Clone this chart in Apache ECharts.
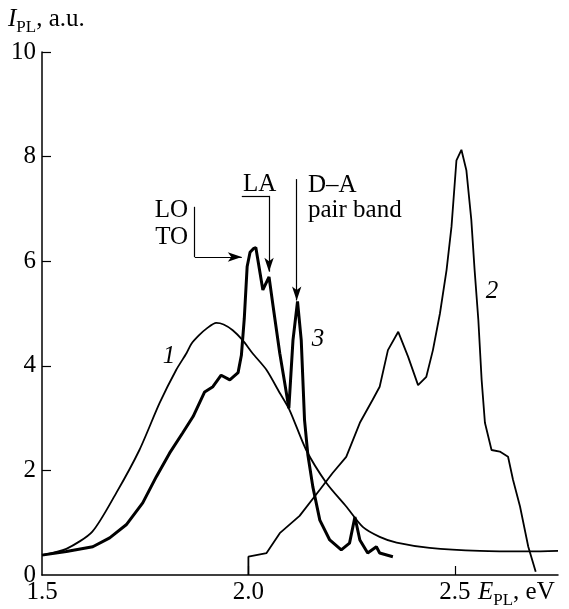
<!DOCTYPE html>
<html>
<head>
<meta charset="utf-8">
<script src="https://cdn.jsdelivr.net/npm/echarts@6/dist/echarts.min.js"></script>
<style>
  html, body { margin: 0; padding: 0; background: #fff; }
  #chart { width: 569px; height: 609px; }
</style>
</head>
<body>
<div id="chart"></div>
<script>
// photon energy (eV) vs PL intensity (a.u.)
const curve1 = [
  [1.500, 0.38], [1.559, 0.50], [1.622, 0.83], [1.680, 1.57], [1.736, 2.39],
  [1.785, 3.29], [1.825, 3.92], [1.850, 4.24], [1.862, 4.42], [1.880, 4.58],
  [1.900, 4.72], [1.922, 4.82], [1.940, 4.79], [1.962, 4.68], [1.986, 4.49],
  [2.010, 4.24], [2.044, 3.92], [2.076, 3.48], [2.100, 3.15], [2.140, 2.39],
  [2.189, 1.76], [2.237, 1.31], [2.277, 0.92], [2.318, 0.73], [2.359, 0.62],
  [2.439, 0.52], [2.561, 0.46], [2.682, 0.45], [2.750, 0.46]
]
const curve2 = [
  [2.000, 0.00], [2.000, 0.35], [2.044, 0.42], [2.076, 0.80], [2.124, 1.13],
  [2.173, 1.63], [2.204, 1.95], [2.237, 2.26], [2.270, 2.91], [2.301, 3.35],
  [2.318, 3.60], [2.338, 4.30], [2.363, 4.65], [2.387, 4.17], [2.411, 3.63],
  [2.431, 3.79], [2.447, 4.30], [2.464, 5.00], [2.480, 5.83], [2.492, 6.66],
  [2.504, 7.93], [2.516, 8.13], [2.528, 7.74], [2.540, 6.79], [2.548, 5.83],
  [2.557, 4.88], [2.565, 3.73], [2.573, 2.91], [2.589, 2.39], [2.609, 2.36],
  [2.629, 2.26], [2.641, 1.82], [2.658, 1.31], [2.678, 0.54], [2.696, 0.06]
]
const curve3 = [
  [1.500, 0.38], [1.559, 0.45], [1.623, 0.54], [1.664, 0.71], [1.704, 0.96],
  [1.744, 1.38], [1.777, 1.88], [1.809, 2.33], [1.841, 2.72], [1.866, 3.03],
  [1.894, 3.50], [1.914, 3.60], [1.934, 3.82], [1.955, 3.73], [1.975, 3.87],
  [1.983, 4.20], [1.990, 4.90], [1.997, 5.90], [2.004, 6.17], [2.012, 6.24],
  [2.018, 6.26], [2.035, 5.45], [2.050, 5.70], [2.060, 5.13], [2.076, 4.24],
  [2.088, 3.67], [2.098, 3.19], [2.108, 4.49], [2.119, 5.23], [2.128, 4.49],
  [2.136, 2.96], [2.144, 2.30], [2.156, 1.69], [2.173, 1.05], [2.197, 0.67],
  [2.225, 0.48], [2.245, 0.61], [2.258, 1.11], [2.270, 0.67], [2.289, 0.42],
  [2.310, 0.54], [2.318, 0.42], [2.350, 0.35]
]
const xTicks = [1.5, 2.0, 2.5]
const yTicks = [0, 2, 4, 6, 8, 10]

const FONT = '"Liberation Serif", "Times New Roman", serif'
const chart = echarts.init(document.getElementById('chart'))

function txt(x, y, text, opts) {
  return {
    type: 'text', x: x, y: y, silent: true,
    style: Object.assign({
      text: text, fontFamily: FONT, fontSize: 25, fill: '#000',
      align: 'left', verticalAlign: 'middle'
    }, opts || {})
  }
}
const subRich = {
  i: { fontFamily: FONT, fontSize: 25, fontStyle: 'italic', lineHeight: 34, verticalAlign: 'middle' },
  s: { fontFamily: FONT, fontSize: 17, lineHeight: 17, verticalAlign: 'bottom' },
  n: { fontFamily: FONT, fontSize: 25, lineHeight: 34, verticalAlign: 'middle' }
}

const arrowLine = {
  silent: true,
  animation: false,
  symbol: ['none', 'arrow'],
  symbolSize: [7, 14],
  label: { show: false },
  emphasis: { disabled: true },
  lineStyle: { color: '#000', width: 1.2, type: 'solid' },
  data: [
    // LO / TO bracket
    [{ coord: [1.870, 7.04], symbol: 'none' }, { coord: [1.870, 6.08], symbol: 'none' }],
    [{ coord: [1.870, 6.08], symbol: 'none' }, { coord: [1.984, 6.08] }],
    // LA
    [{ coord: [1.984, 7.25], symbol: 'none' }, { coord: [2.050, 7.25], symbol: 'none' }],
    [{ coord: [2.050, 7.25], symbol: 'none' }, { coord: [2.050, 5.80] }],
    // D-A pair band
    [{ coord: [2.117, 7.57], symbol: 'none' }, { coord: [2.117, 5.25] }]
  ]
}

let option = {
  animation: false,
  backgroundColor: '#fff',
  textStyle: { fontFamily: FONT },
  grid: { left: 42, right: 11, top: 52, bottom: 34 },
  xAxis: {
    type: 'value',
    min: 1.5,
    max: 2.75,
    interval: 0.5,
    axisLine: { show: true, lineStyle: { color: '#000', width: 1.5 } },
    axisTick: { show: true, inside: true, length: 9, customValues: [2.0, 2.5], lineStyle: { color: '#000', width: 1.2 } },
    axisLabel: {
      customValues: xTicks,
      formatter: v => v.toFixed(1),
      fontFamily: FONT, fontSize: 25, color: '#000', margin: 5
    },
    splitLine: { show: false }
  },
  yAxis: {
    type: 'value',
    min: 0,
    max: 10,
    interval: 2,
    axisLine: { show: true, lineStyle: { color: '#000', width: 1.5 } },
    axisTick: { show: true, inside: true, length: 9, customValues: yTicks.slice(1), lineStyle: { color: '#000', width: 1.2 } },
    axisLabel: {
      customValues: yTicks,
      fontFamily: FONT, fontSize: 25, color: '#000', margin: 6
    },
    splitLine: { show: false }
  },
  series: [
    {
      name: '1', type: 'line', data: curve1, showSymbol: false, silent: true,
      smooth: 0.25,
      lineStyle: { color: '#000', width: 1.8 }
    },
    {
      name: '2', type: 'line', data: curve2, showSymbol: false, silent: true,
      lineStyle: { color: '#000', width: 1.8 }
    },
    {
      name: '3', type: 'line', data: curve3, showSymbol: false, silent: true,
      lineStyle: { color: '#000', width: 3 },
      markLine: arrowLine
    }
  ],
  graphic: [
    {
      type: 'text', x: 8, y: 2, silent: true,
      style: { text: '{i|I}{s|PL}{n|, a.u.}', rich: subRich, fill: '#000' }
    },
    {
      type: 'text', x: 478, y: 575, silent: true,
      style: { text: '{i|E}{s|PL}{n|, eV}', rich: subRich, fill: '#000' }
    },
    txt(188, 210, 'LO', { align: 'right' }),
    txt(188, 237, 'TO', { align: 'right' }),
    txt(243, 184, 'LA'),
    txt(308, 185, 'D\u2013A'),
    txt(308, 210, 'pair band'),
    txt(169, 356, '1', { align: 'center', fontStyle: 'italic' }),
    txt(318, 339, '3', { align: 'center', fontStyle: 'italic' }),
    txt(492, 291, '2', { align: 'center', fontStyle: 'italic' })
  ]
}
chart.setOption(option)
window.onresize = chart.resize
</script>
</body>
</html>
